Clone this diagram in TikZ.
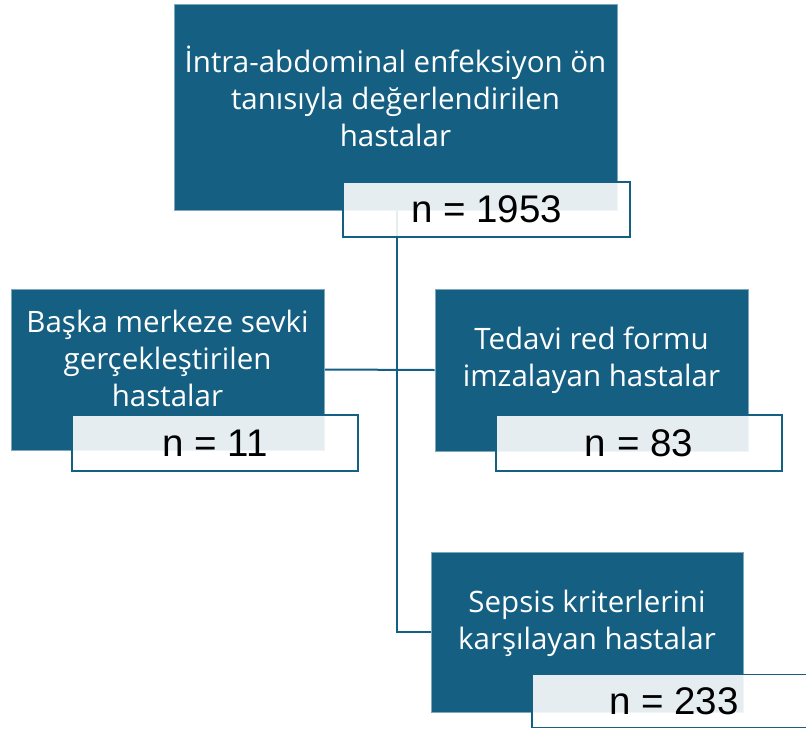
\documentclass[tikz,border=0pt]{standalone}
\usepackage{fontspec}
\setmainfont{Open Sans}
\newfontfamily\numfont{Liberation Sans}
\usetikzlibrary{backgrounds}
\definecolor{boxblue}{HTML}{156082}
\begin{document}
\begin{tikzpicture}[x=1pt,y=-1pt,
  darkbox/.style={rectangle, fill=boxblue, draw=boxblue!55!white, line width=0.6pt, inner sep=0pt},
  countbox/.style={rectangle, fill=white, fill opacity=0.89, text opacity=1, draw=boxblue, draw opacity=1,
    line width=1.8pt, inner sep=0pt, text=black, font=\numfont\fontsize{38.5}{42}\selectfont},
  boxtext/.style={text=white, align=center, inner sep=0pt, font=\fontsize{29.5}{37}\selectfont},
  link/.style={draw=boxblue, line width=2pt}]
\useasboundingbox (0,0) rectangle (806,729);

% dark boxes
\node[darkbox, minimum width=443pt, minimum height=206pt] (top) at (395.5,107) {};
\node[darkbox, minimum width=313pt, minimum height=161pt] (left) at (167.5,369.5) {};
\node[darkbox, minimum width=313pt, minimum height=162pt] (right) at (591.5,370) {};
\node[darkbox, minimum width=312pt, minimum height=160pt] (sepsis) at (587,632) {};

% box captions
\node[boxtext] (toptext) at ([yshift=11pt]top.center)
  {İntra-abdominal enfeksiyon ön\\tanısıyla değerlendirilen\\hastalar};
\node[boxtext] (lefttext) at ([yshift=11pt]left.center)
  {Başka merkeze sevki\\gerçekleştirilen\\hastalar};
\node[boxtext] (righttext) at ([yshift=10pt]right.center)
  {Tedavi red formu\\imzalayan hastalar};
\node[boxtext] (sepsistext) at ([yshift=9pt]sepsis.center)
  {Sepsis kriterlerini\\karşılayan hastalar};

% count boxes
\node[countbox, minimum width=287pt, minimum height=55pt] (topn) at (486.5,209.5) {n = 1953};
\node[countbox, minimum width=286pt, minimum height=56pt] (leftn) at (215,443) {n = 11};
\node[countbox, minimum width=286pt, minimum height=56pt] (rightn) at (639,443) {n = 83};
\node[countbox, minimum width=284pt, minimum height=53pt] (sepsisn) at (674,701) {n = 233};

% connectors
\begin{scope}[on background layer]
  \draw[link] ([xshift=1.5pt]top.south) |- (sepsis.west);
  \draw[link] (left.east) -- (right.west);
\end{scope}
\end{tikzpicture}
\end{document}
